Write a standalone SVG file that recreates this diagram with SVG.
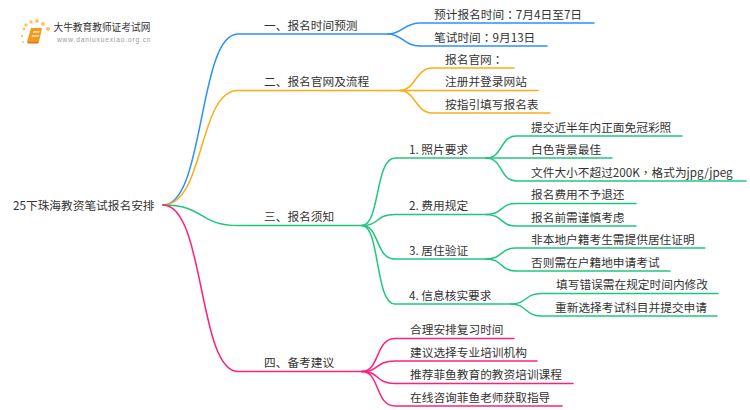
<svg xmlns="http://www.w3.org/2000/svg" width="750" height="410" viewBox="0 0 750 410">
<style>
text{font-family:"Microsoft YaHei","Noto Sans CJK SC","Noto Sans",sans-serif;font-size:11.700px;fill:#333}
.tc{font-family:"Noto Sans CJK TC",sans-serif}
.c path{fill:none;stroke-width:1.5;stroke-linecap:round}
.b path{stroke:#2b90ff}.o path{stroke:#ffab19}.g path{stroke:#1fc77e}.p path{stroke:#ff1f7f}
</style>
<rect width="750" height="410" fill="#fff"/>
<g id="logo">
<g fill="#f9c66a"><circle cx="24" cy="29" r="1.5"/><circle cx="26" cy="25" r="1.7"/><circle cx="31" cy="22" r="1.8"/><circle cx="37" cy="21" r="2"/><circle cx="43" cy="24" r="2"/><circle cx="48" cy="29" r="2"/><circle cx="22" cy="36" r="1.2"/><circle cx="23" cy="42" r="1"/></g>
<path d="M31 28h11l-3 14H27z" fill="#f29a1f"/><path d="M33 31h7l-1 2h-6zM32 35h7l-.5 2h-7z" fill="#fbd38a"/><path d="M27 42h12l-1 1.600H28z" fill="#d9760f"/>
<text x="53.500" y="31" style="font-size:9.700px">大牛教育教师证考试网</text>
<text x="57" y="41.500" style="font-family:'Liberation Sans',sans-serif;font-size:6.600px;letter-spacing:.85px;fill:#999">www.daniuxuexiao.org.cn</text>
</g>
<g id="connectors" class="c">
<g class="b"><path d="M163 205C205 205 198 34 238 34H388"/><path d="M388 34C402 34 404 23 420 23H594"/><path d="M388 34C402 34 404 46 420 46H547"/></g>
<g class="o"><path d="M163 205C205 205 198 90.500 238 90.500H400"/><path d="M400 90.500C415 90.500 416 68 432 68H514"/><path d="M400 90.500H538"/><path d="M400 90.500C415 90.500 416 113 432 113H550"/></g>
<g class="g"><path d="M163 205C205 205 198 225.500 238 225.500H362"/>
<path d="M362 225.500C380 225.500 375 158 395 158H486"/><path d="M362 225.500C380 225.500 375 214.500 395 214.500H486"/><path d="M362 225.500C380 225.500 375 259 395 259H486"/><path d="M362 225.500C380 225.500 375 304 395 304H511"/>
<path d="M486 158C503 158 500 136 516 136H682"/><path d="M486 158H612"/><path d="M486 158C503 158 500 181 516 181H746"/>
<path d="M486 214.500C503 214.500 500 203.500 516 203.500H636"/><path d="M486 214.500C503 214.500 500 226 516 226H636"/>
<path d="M486 259C503 259 500 248 516 248H705"/><path d="M486 259C503 259 500 271 516 271H670"/>
<path d="M511 304C527 304 525 293.500 541 293.500H718"/><path d="M511 304C527 304 525 316 541 316H717"/></g>
<g class="p"><path d="M163 205C205 205 198 371.500 238 371.500H362"/>
<path d="M362 371.500C380 371.500 375 338.500 395 338.500H514"/><path d="M362 371.500C380 371.500 375 361 395 361H537"/><path d="M362 371.500C380 371.500 375 383.500 395 383.500H573"/><path d="M362 371.500C380 371.500 375 406 395 406H562"/></g>
</g>
<g id="root"><text x="13" y="209.500">25下珠海教资笔试报名安排</text></g>
<g id="n1"><text x="264" y="30">一、报名时间预测</text></g>
<g id="n11"><text x="434" y="19">预计报名时间<tspan class="tc">：</tspan>7月4日至7日</text></g>
<g id="n12"><text x="434" y="41.500">笔试时间<tspan class="tc">：</tspan>9月13日</text></g>
<g id="n2"><text x="264" y="86">二、报名官网及流程</text></g>
<g id="n21"><text x="445" y="64">报名官网<tspan class="tc">：</tspan></text></g>
<g id="n22"><text x="445" y="86">注册并登录网站</text></g>
<g id="n23"><text x="445" y="109">按指引填写报名表</text></g>
<g id="n3"><text x="264" y="221">三、报名须知</text></g>
<g id="n31"><text x="409" y="154">1. 照片要求</text></g>
<g id="n311"><text x="531" y="131.500">提交近半年内正面免冠彩照</text></g>
<g id="n312"><text x="531" y="154">白色背景最佳</text></g>
<g id="n313"><text x="531" y="176.500">文件大小不超过200K<tspan class="tc">，</tspan>格式为jpg/jpeg</text></g>
<g id="n32"><text x="409" y="210">2. 费用规定</text></g>
<g id="n321"><text x="531" y="199">报名费用不予退还</text></g>
<g id="n322"><text x="531" y="221.500">报名前需谨慎考虑</text></g>
<g id="n33"><text x="409" y="254.500">3. 居住验证</text></g>
<g id="n331"><text x="531" y="244">非本地户籍考生需提供居住证明</text></g>
<g id="n332"><text x="531" y="266.500">否则需在户籍地申请考试</text></g>
<g id="n34"><text x="409" y="300">4. 信息核实要求</text></g>
<g id="n341"><text x="556" y="289">填写错误需在规定时间内修改</text></g>
<g id="n342"><text x="555" y="311.500">重新选择考试科目并提交申请</text></g>
<g id="n4"><text x="264" y="367">四、备考建议</text></g>
<g id="n41"><text x="410" y="334">合理安排复习时间</text></g>
<g id="n42"><text x="410" y="356.500">建议选择专业培训机构</text></g>
<g id="n43"><text x="410" y="379">推荐菲鱼教育的教资培训课程</text></g>
<g id="n44"><text x="410" y="401.500">在线咨询菲鱼老师获取指导</text></g>
</svg>
